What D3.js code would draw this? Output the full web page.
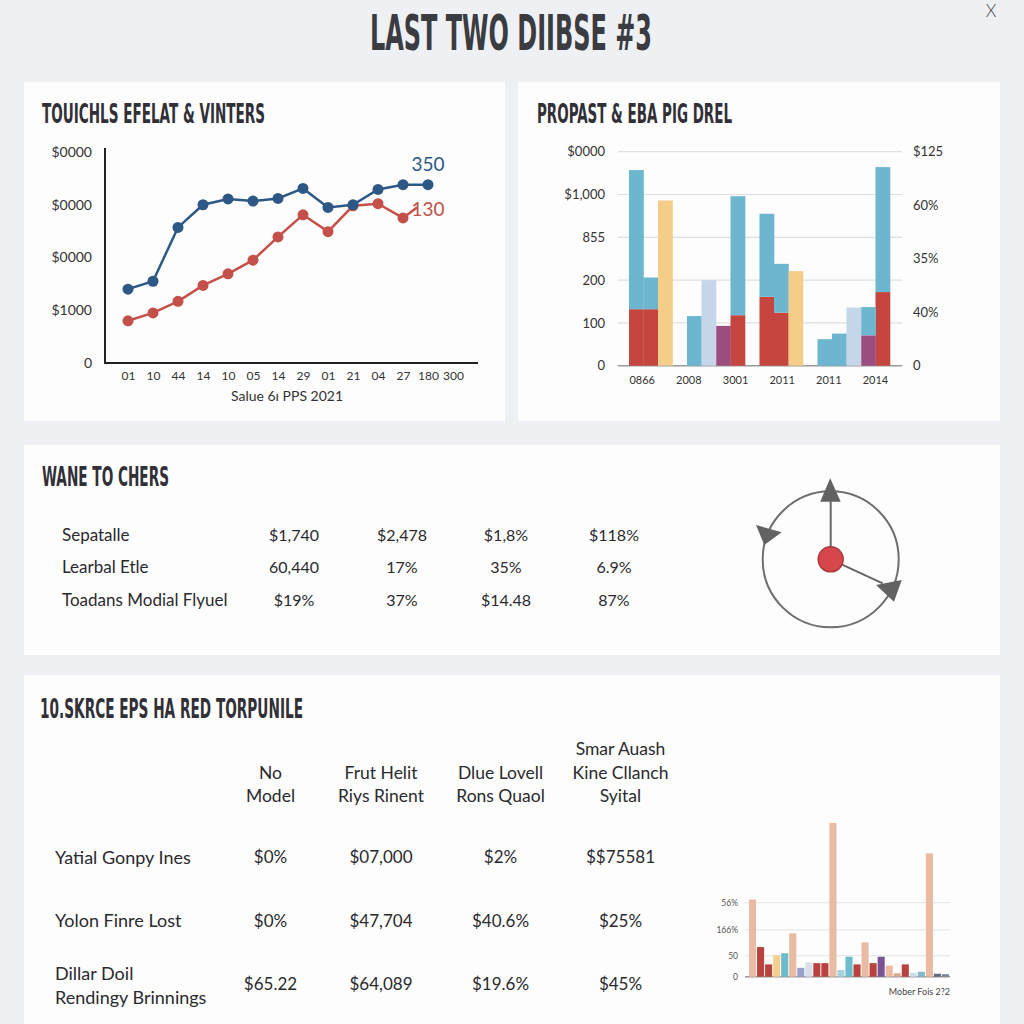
<!DOCTYPE html>
<html><head><meta charset="utf-8">
<script src="https://cdn.jsdelivr.net/npm/d3@7"></script>
<style>html,body{margin:0;padding:0;background:#eef0f3;} svg{display:block;}</style>
</head><body>
<svg id="c" width="1024" height="1024"></svg>
<script>
// ---------- DATA ----------
const pageTitle = "LAST TWO DIIBSE #3";

// Panel 1: line chart
const lineTitle = "TOUICHLS EFELAT & VINTERS";
const lineCats = ["01","10","44","14","10","05","14","29","01","21","04","27","180","300"];
const blueSeries = [1.40,1.55,2.57,3.00,3.11,3.07,3.12,3.31,2.95,3.00,3.29,3.38,3.38];
const redSeries  = [0.80,0.95,1.17,1.47,1.69,1.95,2.39,2.81,2.49,2.98,3.02,2.75];
const lineYTicks = [0,1,2,3,4];
const lineYLabels = ["0","$1000","$0000","$0000","$0000"];
const lineXTitle = "Salue 6ı PPS 2021";
const endLabels = [{text:"350", series:"blue", v:3.77}, {text:"130", series:"red", v:2.92}];

// Panel 2: stacked bars
const barTitle = "PROPAST & EBA PIG DREL";
const barSlots = d3.range(18);               // 18 slots incl. 3 empty gaps
const barKeys = ["red","purple","blue","yellow","light"];
const barRed    = [1.32,1.32,0,   0, 0,   0,  0,   1.18,0, 1.61,1.24,0,   0, 0,   0,   0,   0,   1.72];
const barPurple = [0,   0,   0,   0, 0,   0,  0.93,0,   0, 0,   0,   0,   0, 0,   0,   0,   0.71,0   ];
const barBlue   = [3.25,0.74,0,   0, 1.16,0,  0,   2.78,0, 1.94,1.14,0,   0, 0.62,0.75,0,   0.66,2.92];
const barYellow = [0,   0,   3.86,0, 0,   0,  0,   0,   0, 0,   0,   2.21,0, 0,   0,   0,   0,   0   ];
const barLight  = [0,   0,   0,   0, 0,   2.0,0,   0,   0, 0,   0,   0,   0, 0,   0,   1.36,0,   0   ];
const barYears = ["0866","2008","3001","2011","2011","2014"];
const barLeftTicks = [0,1,2,3,4,5];
const barLeftLabels = ["0","100","200","855","$1,000","$0000"];
const barRightTicks = [0,1,2,3,4];
const barRightLabels = ["0","40%","35%","60%","$125"];

// Panel 3: table
const tableTitle = "WANE TO CHERS";
const tableRows = ["Sepatalle","Learbal Etle","Toadans Modial Flyuel"];
const tableCol1 = ["$1,740","60,440","$19%"];
const tableCol2 = ["$2,478","17%","37%"];
const tableCol3 = ["$1,8%","35%","$14.48"];
const tableCol4 = ["$118%","6.9%","87%"];

// Panel 4: table + mini bars
const t2Title = "10.SKRCE EPS HA RED TORPUNILE";
const t2Headers = [["No","Model"],["Frut Helit","Riys Rinent"],["Dlue Lovell","Rons Quaol"],["Smar Auash","Kine Cllanch","Syital"]];
const t2Rows = [["Yatial Gonpy Ines"],["Yolon Finre Lost"],["Dillar Doil","Rendingy Brinnings"]];
const t2Col1 = ["$0%","$0%","$65.22"];
const t2Col2 = ["$07,000","$47,704","$64,089"];
const t2Col3 = ["$2%","$40.6%","$19.6%"];
const t2Col4 = ["$$75581","$25%","$45%"];
const miniValues = [3.13,1.20,0.50,0.87,0.95,1.76,0.36,0.58,0.55,0.55,6.23,0.27,0.81,0.50,1.39,0.55,0.81,0.45,0.14,0.50,0.16,0.20,5.00,0.12,0.10];
const miniCats   = ["peach","red","red","yellow","teal","peach","violet","pale","red","red","peach","aqua","teal","red","peach","red","purple","peach","salmon","red","sky","steel","peach","slate","gray"];
const miniTicks = [0,0.85,1.9,3.0];
const miniTickLabels = ["0","50","166%","56%"];
const miniCaption = "Mober Fois 2?2";

// ---------- DRAW ----------
const svg = d3.select("#c");
const condensed = "'Liberation Sans Narrow','DejaVu Sans Condensed','Arial Narrow',sans-serif";
const body = "Lato,'Open Sans','Noto Sans',sans-serif";
const ink = "#2a2a2e";

svg.append("rect").attr("width",1024).attr("height",1024).attr("fill","#eef0f3");
[[24,82,481,339],[518,82,482,339],[24,445,976,210],[24,675,976,360]].forEach(p=>{
  svg.append("rect").attr("x",p[0]).attr("y",p[1]).attr("width",p[2]).attr("height",p[3]).attr("fill","#fdfdfd");
});

function heading(t,x,y,size,width,color){
  return svg.append("text").attr("x",x).attr("y",y).text(t)
    .attr("font-family",condensed).attr("font-weight",700).attr("font-size",size)
    .attr("fill",color||"#303036").attr("textLength",width).attr("lengthAdjust","spacingAndGlyphs");
}
heading(pageTitle,370,50,50,282,"#3b3b42");
svg.append("text").attr("x",991).attr("y",17).attr("text-anchor","middle").text("X")
  .attr("font-family",body).attr("font-size",17).attr("font-weight",300).attr("fill","#444");

// ----- Panel 1 -----
heading(lineTitle,42,123,26,223);
const x1 = d3.scalePoint().domain(d3.range(lineCats.length)).range([128,453]);
const y1 = d3.scaleLinear().domain([0,4]).range([363,152]);
const g1 = svg.append("g");
const ay = g1.append("g").attr("transform","translate(92,0)")
  .call(d3.axisLeft(y1).tickValues(lineYTicks).tickFormat((d,i)=>lineYLabels[i]).tickSize(0).tickPadding(0));
ay.select(".domain").remove();
ay.selectAll("text").attr("font-family",body).attr("font-size",14).attr("fill","#333");
const ax = g1.append("g").attr("transform","translate(0,371)")
  .call(d3.axisBottom(x1).tickFormat(i=>lineCats[i]).tickSize(0).tickPadding(0));
ax.select(".domain").remove();
ax.selectAll("text").attr("font-family",body).attr("font-size",12).attr("fill","#333");
g1.append("line").attr("x1",105).attr("x2",105).attr("y1",148).attr("y2",y1(0)).attr("stroke","#222").attr("stroke-width",2);
g1.append("line").attr("x1",104).attr("x2",478).attr("y1",y1(0)).attr("y2",y1(0)).attr("stroke","#222").attr("stroke-width",2);
g1.append("text").attr("x",287).attr("y",401).attr("text-anchor","middle").text(lineXTitle)
  .attr("font-family",body).attr("font-size",14).attr("fill","#333");
const colBlue="#2d5886", colRed="#c4504a";
const line = d3.line().x((d,i)=>x1(i)).y(d=>y1(d));
// red extension toward its label
g1.append("line").attr("x1",x1(redSeries.length-1)).attr("y1",y1(redSeries[redSeries.length-1]))
  .attr("x2",x1(redSeries.length)-11).attr("y2",y1(endLabels[1].v+0.03)).attr("stroke",colRed).attr("stroke-width",2.5);
[[redSeries,colRed],[blueSeries,colBlue]].forEach(([s,c])=>{
  g1.append("path").datum(s).attr("d",line).attr("fill","none").attr("stroke",c).attr("stroke-width",2.5);
  g1.selectAll(null).data(s).enter().append("circle").attr("cx",(d,i)=>x1(i)).attr("cy",d=>y1(d)).attr("r",5.5).attr("fill",c);
});
endLabels.forEach(l=>{
  g1.append("text").attr("x",x1(blueSeries.length-1)).attr("y",y1(l.v)).attr("dy","0.35em").attr("text-anchor","middle")
    .text(l.text).attr("font-family",body).attr("font-size",19).attr("fill",l.series==="blue"?colBlue:colRed);
});

// ----- Panel 2 -----
heading(barTitle,537,123,26,195);
const x2 = d3.scaleBand().domain(barSlots).range([629,890]).padding(0);
const y2 = d3.scaleLinear().domain([0,5]).range([365.7,151.7]);
const yR = d3.scaleLinear().domain([0,4]).range([365.7,151.7]);
const g2 = svg.append("g");
g2.selectAll(null).data(barLeftTicks).enter().append("line")
  .attr("x1",618).attr("x2",902).attr("y1",d=>y2(d)).attr("y2",d=>y2(d))
  .attr("stroke",d=>d===0?"#9a9a9a":"#dcdfe4").attr("stroke-width",d=>d===0?1.5:1.2);
const ly = g2.append("g").attr("transform","translate(605,0)")
  .call(d3.axisLeft(y2).tickValues(barLeftTicks).tickFormat((d,i)=>barLeftLabels[i]).tickSize(0).tickPadding(0));
ly.select(".domain").remove();
ly.selectAll("text").attr("font-family",body).attr("font-size",13).attr("fill","#333");
const ry = g2.append("g").attr("transform","translate(913,0)")
  .call(d3.axisRight(yR).tickValues(barRightTicks).tickFormat((d,i)=>barRightLabels[i]).tickSize(0).tickPadding(0));
ry.select(".domain").remove();
ry.selectAll("text").attr("font-family",body).attr("font-size",13).attr("fill","#333");
const xl = d3.scalePoint().domain(d3.range(barYears.length)).range([641.7,875]);
const bx = g2.append("g").attr("transform","translate(0,376)")
  .call(d3.axisBottom(xl).tickFormat(i=>barYears[i]).tickSize(0).tickPadding(0));
bx.select(".domain").remove();
bx.selectAll("text").attr("font-family",body).attr("font-size",11).attr("fill","#333");
const barTable = barSlots.map(i=>({slot:i,red:barRed[i],purple:barPurple[i],blue:barBlue[i],yellow:barYellow[i],light:barLight[i]}));
const stacked = d3.stack().keys(barKeys)(barTable);
const barColor = d3.scaleOrdinal().domain(barKeys).range(["#c4463f","#9b4d7e","#6cb6d0","#f4cd88","#c6d6ea"]);
stacked.forEach(layer=>{
  g2.selectAll(null).data(layer.filter(d=>d[1]-d[0]>0)).enter().append("rect")
    .attr("x",d=>x2(d.data.slot)).attr("width",x2.bandwidth()+0.3)
    .attr("y",d=>y2(d[1])).attr("height",d=>y2(d[0])-y2(d[1]))
    .attr("fill",barColor(layer.key));
});

// ----- Panel 3 -----
heading(tableTitle,42,486,26,127);
const g3 = svg.append("g").attr("font-family",body).attr("fill",ink);
const rowY3 = [535,567,600];
const colX3 = [294,402,506,614];
tableRows.forEach((r,i)=>{
  g3.append("text").attr("x",62).attr("y",rowY3[i]).attr("dy","0.35em").text(r).attr("font-size",17);
});
[tableCol1,tableCol2,tableCol3,tableCol4].forEach((col,j)=>{
  col.forEach((v,i)=>g3.append("text").attr("x",colX3[j]).attr("y",rowY3[i]).attr("dy","0.35em")
    .attr("text-anchor","middle").text(v).attr("font-size",16));
});
// circular diagram
const cx=830.7, cy=559.3, R=68;
const gd = svg.append("g");
gd.append("circle").attr("cx",cx).attr("cy",cy).attr("r",R).attr("fill","none").attr("stroke","#6e6e6e").attr("stroke-width",2);
gd.append("line").attr("x1",cx).attr("y1",cy).attr("x2",cx).attr("y2",cy-58).attr("stroke","#666").attr("stroke-width",2);
gd.append("line").attr("x1",cx).attr("y1",cy).attr("x2",cx+52).attr("y2",cy+24).attr("stroke","#666").attr("stroke-width",2);
[[[-10.5,-57.5],[10,-57.5],[-0.5,-81]],
 [[-74.7,-34.3],[-49,-27],[-66.4,-14.3]],
 [[45.3,25.7],[71,20.7],[63.3,42.4]]].forEach(tri=>{
  gd.append("path").attr("d","M"+tri.map(p=>(cx+p[0])+","+(cy+p[1])).join("L")+"Z").attr("fill","#626262");
});
gd.append("circle").attr("cx",cx).attr("cy",cy).attr("r",12.5).attr("fill","#d6474b").attr("stroke","#a83a3c").attr("stroke-width",1.5);

// ----- Panel 4 -----
heading(t2Title,40,718,26,263);
const g4 = svg.append("g").attr("font-family",body).attr("fill",ink);
const colX4 = [270.5,381,500.5,620.5];
const hdrBottom = 795.7, lh = 23.2;
t2Headers.forEach((h,j)=>{
  h.forEach((line,k)=>g4.append("text").attr("x",colX4[j]).attr("y",hdrBottom-(h.length-1-k)*lh).attr("dy","0.35em")
    .attr("text-anchor","middle").text(line).attr("font-size",17.5));
});
const rowY4 = [857.3,920.7,985.5];
t2Rows.forEach((r,i)=>{
  r.forEach((line,k)=>g4.append("text").attr("x",55).attr("y",rowY4[i]+(k-(r.length-1)/2)*24).attr("dy","0.35em")
    .text(line).attr("font-size",18));
});
[t2Col1,t2Col2,t2Col3,t2Col4].forEach((col,j)=>{
  col.forEach((v,i)=>g4.append("text").attr("x",colX4[j]).attr("y",i===2?984.3:rowY4[i]).attr("dy","0.35em")
    .attr("text-anchor","middle").text(v).attr("font-size",17));
});
// mini bar chart
const xm = d3.scaleBand().domain(d3.range(miniValues.length)).range([749,949]).paddingInner(0.12);
const ym = d3.scaleLinear().domain([0,3]).range([976.7,902.7]);
const miniColor = d3.scaleOrdinal()
  .domain(["peach","red","yellow","teal","violet","pale","aqua","purple","salmon","sky","steel","slate","gray"])
  .range(["#e9bba3","#b8423e","#f3d08e","#6bbccc","#9aa0cc","#d9dee9","#a9d3dc","#7a5296","#dcab93","#c8e0ec","#86b6ca","#5e6a7a","#7b8592"]);
const gm = svg.append("g");
gm.selectAll(null).data(miniTicks).enter().append("line")
  .attr("x1",745).attr("x2",950).attr("y1",d=>ym(d)).attr("y2",d=>ym(d))
  .attr("stroke",d=>d===0?"#9a9a9a":"#e2e4e8").attr("stroke-width",d=>d===0?1.5:1);
const my = gm.append("g").attr("transform","translate(738,0)")
  .call(d3.axisLeft(ym).tickValues(miniTicks).tickFormat((d,i)=>miniTickLabels[i]).tickSize(0).tickPadding(0));
my.select(".domain").remove();
my.selectAll("text").attr("font-family",body).attr("font-size",8.5).attr("fill","#555");
gm.selectAll(null).data(miniValues).enter().append("rect")
  .attr("x",(d,i)=>xm(i)).attr("width",xm.bandwidth()).attr("y",d=>ym(d)).attr("height",d=>ym(0)-ym(d))
  .attr("fill",(d,i)=>miniColor(miniCats[i]));
gm.append("text").attr("x",950).attr("y",995).attr("text-anchor","end").text(miniCaption)
  .attr("font-family",body).attr("font-size",9).attr("fill","#444");
</script>
</body></html>
